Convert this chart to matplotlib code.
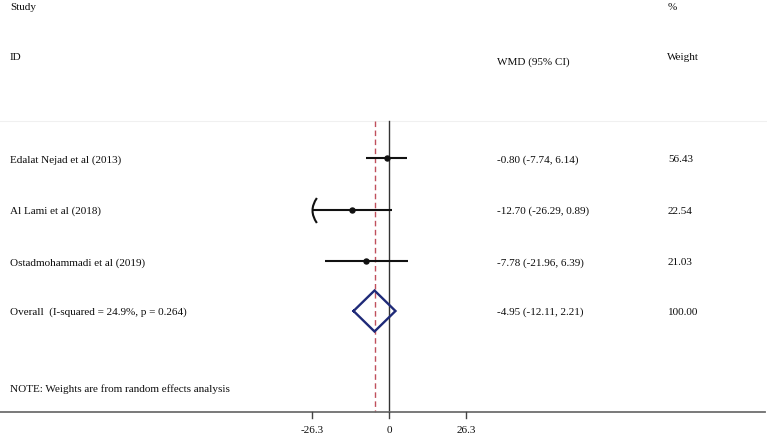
import matplotlib
matplotlib.use("Agg")
import matplotlib.pyplot as plt
from matplotlib.path import Path
import numpy as np

# ---- data ----
studies = ["Edalat Nejad et al (2013)", "Al Lami et al (2018)", "Ostadmohammadi et al (2019)"]
wmd = [-0.80, -12.70, -7.78]
ci_lo = [-7.74, -26.29, -21.96]
ci_hi = [6.14, 0.89, 6.39]
weights = ["56.43", "22.54", "21.03"]
overall_label = "Overall  (I-squared = 24.9%, p = 0.264)"
overall = -4.95
overall_lo = -12.11
overall_hi = 2.21
overall_weight = "100.00"
xticks = [-26.3, 0, 26.3]
xticklabels = ["-26.3", "0", "26.3"]
axis_min = -26.3

W, H = 767, 439
fig = plt.figure(figsize=(W / 100, H / 100), dpi=100)
ax = fig.add_axes([0, 0, 1, 1])
ax.set_axis_off()

# pixel-based layout: 0 at x=389px, 26.3 at x=466px
px_per_unit = 77.0 / 26.3
x0_px = 389.0
ax.set_xlim(-x0_px / px_per_unit, (W - x0_px) / px_per_unit)
ax.set_ylim(H, 0)

fam = ["Liberation Serif", "DejaVu Serif"]
fs = 8
tc = "#0d0d0d"

def xfrac(px):
    return px / W

tr = ax.get_yaxis_transform()  # x in axes fraction, y in data

# headers
ax.text(xfrac(10), 8, "Study", transform=tr, ha="left", va="center", family=fam, fontsize=fs, color=tc)
ax.text(xfrac(10), 58, "ID", transform=tr, ha="left", va="center", family=fam, fontsize=fs, color=tc)
ax.text(xfrac(497), 62, "WMD (95% CI)", transform=tr, ha="left", va="center", family=fam, fontsize=fs, color=tc)
ax.text(xfrac(668), 8, "%", transform=tr, ha="left", va="center", family=fam, fontsize=fs, color=tc)
ax.text(xfrac(667), 58, "Weight", transform=tr, ha="left", va="center", family=fam, fontsize=fs, color=tc)

# faint separator
ax.plot([ax.get_xlim()[0], ax.get_xlim()[1]], [122, 122], color="#f0f0f0", lw=0.8)

# reference lines
ax.plot([0, 0], [122, 413], color="#333333", lw=1.0)
ax.plot([overall, overall], [122, 413], color="#c0505c", lw=1.0, ls=(0, (4, 2.5)))

rows_y = [159, 210.5, 262]
arc = Path([(0.35, 1.0), (-0.35, 0.0), (0.35, -1.0)], [Path.MOVETO, Path.CURVE3, Path.CURVE3])
for s, m, lo, hi, w, y in zip(studies, wmd, ci_lo, ci_hi, weights, rows_y):
    left = max(lo, axis_min)
    arrow = lo <= axis_min + 0.05
    ax.plot([left, hi], [y, y], color="#111111", lw=1.5, solid_capstyle="butt")
    if arrow:
        ax.plot([left], [y], marker=arc, markersize=18, markerfacecolor="none",
                markeredgecolor="#111111", markeredgewidth=1.5)
    ax.plot([m], [y], marker="o", markersize=3.6, color="#111111")
    ax.text(xfrac(10), y + 1, s, transform=tr, ha="left", va="center", family=fam, fontsize=fs, color=tc)
    ax.text(xfrac(497), y + 1, f"{m:.2f} ({lo:.2f}, {hi:.2f})", transform=tr, ha="left", va="center",
            family=fam, fontsize=fs, color=tc)
    ax.text(xfrac(668), y + 1, w, transform=tr, ha="left", va="center", family=fam, fontsize=fs, color=tc)

# overall diamond
yd = 312
half_h = 20.5
ax.plot([overall_lo, overall, overall_hi, overall, overall_lo],
        [yd, yd - half_h, yd, yd + half_h, yd], color="#1f2a78", lw=1.7, solid_joinstyle="miter")
ax.text(xfrac(10), yd + 0.5, overall_label, transform=tr, ha="left", va="center", family=fam, fontsize=fs, color=tc)
ax.text(xfrac(497), yd + 0.5, f"{overall:.2f} ({overall_lo:.2f}, {overall_hi:.2f})", transform=tr,
        ha="left", va="center", family=fam, fontsize=fs, color=tc)
ax.text(xfrac(668), yd + 0.5, overall_weight, transform=tr, ha="left", va="center", family=fam, fontsize=fs, color=tc)

ax.text(xfrac(10), 389, "NOTE: Weights are from random effects analysis", transform=tr, ha="left", va="center",
        family=fam, fontsize=fs, color=tc)

# x axis
ax.plot([xfrac(0), xfrac(765)], [413.5, 413.5], transform=tr, color="#6e6e6e", lw=1.3)
for t, lab in zip(xticks, xticklabels):
    ax.plot([t, t], [413.5, 419.5], color="#444444", lw=1.0)
    ax.text(t, 431, lab, ha="center", va="center", family=fam, fontsize=fs, color=tc)

fig.savefig("out.png", dpi=100)
